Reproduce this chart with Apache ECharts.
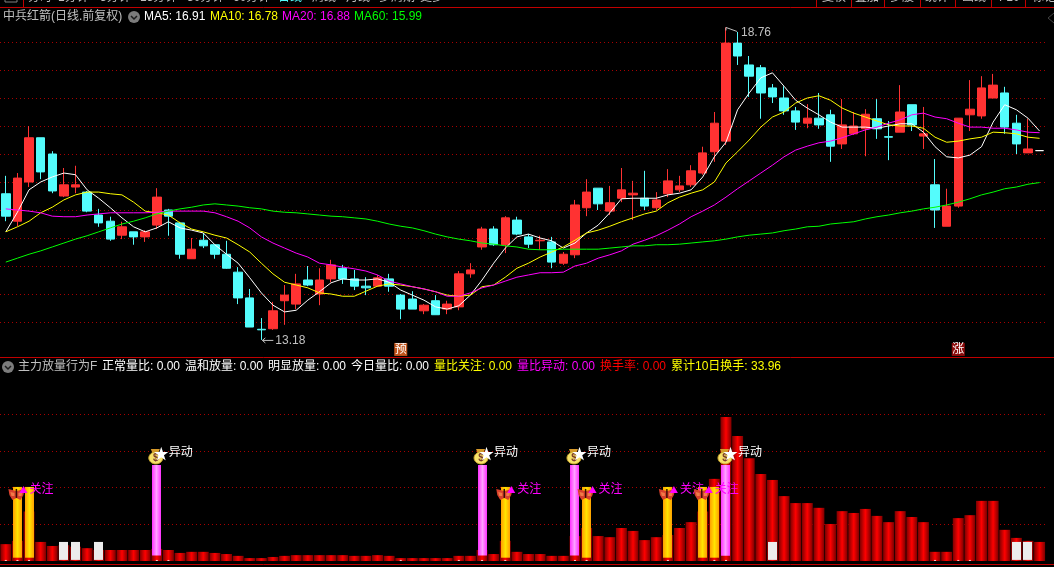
<!DOCTYPE html>
<html>
<head>
<meta charset="utf-8">
<style>html,body{margin:0;background:#000}#main{width:1054px;height:567px}</style>
<script src="https://cdn.jsdelivr.net/npm/echarts@6/dist/echarts.min.js"></script>
</head>
<body>
<div id="main"></div>
<script>
// [open, close, low, high]
const ohlc = [
[15.79,15.39,15.30,16.11],[15.30,16.07,15.21,16.16],[16.00,16.79,15.91,17.00],[16.79,16.18,16.05,16.79],[16.50,15.84,15.80,16.55],
[15.75,15.95,15.73,16.25],[15.91,15.95,15.80,16.29],[15.82,15.48,15.46,15.84],[15.41,15.27,15.20,15.52],[15.30,14.98,14.95,15.38],
[15.05,15.20,14.98,15.29],[15.11,15.02,14.88,15.11],[15.02,15.11,14.93,15.14],[15.23,15.73,15.16,15.89],[15.50,15.39,15.04,15.52],
[15.27,14.71,14.63,15.29],[14.63,14.80,14.63,15.00],[14.96,14.86,14.82,15.09],[14.88,14.71,14.63,14.88],[14.71,14.46,14.45,14.95],
[14.39,13.93,13.82,14.48],[13.93,13.41,13.41,14.09],[13.37,13.36,13.18,13.57],[13.38,13.70,13.36,13.86],[13.88,13.98,13.45,14.16],
[13.82,14.18,13.73,14.36],[14.25,14.16,14.14,14.50],[14.00,14.25,13.80,14.46],[14.27,14.52,14.21,14.61],[14.46,14.27,14.18,14.52],
[14.27,14.14,14.07,14.43],[14.14,14.11,13.98,14.30],[14.14,14.29,14.13,14.34],[14.27,14.14,14.04,14.36],[13.98,13.73,13.55,14.00],
[13.91,13.73,13.73,14.05],[13.70,13.80,13.64,13.82],[13.88,13.63,13.63,13.98],[13.73,13.82,13.64,13.88],[13.77,14.36,13.71,14.41],
[14.36,14.43,14.29,14.55],[14.84,15.16,14.79,15.20],[15.16,14.88,14.86,15.21],[14.88,15.36,14.73,15.39],[15.32,15.07,15.05,15.38],
[15.02,14.89,14.82,15.07],[14.95,14.96,14.79,15.04],[14.93,14.57,14.46,15.02],[14.55,14.71,14.52,14.75],[14.70,15.59,14.64,15.68],
[15.54,15.82,15.39,16.05],[15.89,15.61,15.50,15.89],[15.48,15.63,15.41,15.93],[15.71,15.86,15.64,16.25],[15.77,15.80,15.32,16.02],
[15.71,15.57,15.50,16.20],[15.54,15.68,15.50,15.82],[15.79,16.02,15.73,16.23],[15.86,15.93,15.82,16.11],[15.95,16.20,15.91,16.30],
[16.16,16.52,16.13,16.63],[16.54,17.05,16.36,17.25],[16.73,18.48,16.66,18.76],[18.48,18.25,18.09,18.68],[18.09,17.89,17.52,18.25],
[18.04,17.59,17.13,18.09],[17.68,17.52,17.41,17.75],[17.50,17.27,17.20,17.71],[17.27,17.07,16.93,17.34],[17.05,17.14,16.96,17.39],
[17.14,17.02,16.95,17.59],[17.20,16.64,16.36,17.29],[16.68,17.02,16.59,17.48],[16.86,17.00,16.84,17.25],[16.95,17.21,16.46,17.30],
[17.13,16.95,16.77,17.48],[16.81,16.80,16.39,17.09],[16.89,17.25,16.89,17.73],[17.38,17.02,16.91,17.38],[16.82,16.86,16.59,17.34],
[15.95,15.50,15.18,16.41],[15.21,15.57,15.21,15.88],[15.57,17.14,15.54,17.14],[17.20,17.30,16.91,17.82],[17.18,17.68,17.13,17.89],
[17.50,17.73,17.50,17.93],[17.59,16.98,16.86,17.70],[17.05,16.68,16.50,17.20],[16.52,16.59,16.52,17.13],[16.56,16.56,16.56,16.56]
];
const ma5 = [15.11,15.46,15.86,16.00,16.09,16.16,16.13,15.86,15.71,15.54,15.36,15.20,15.11,15.18,15.29,15.18,15.14,15.09,14.88,14.71,14.55,14.29,14.02,13.80,13.68,13.71,13.89,14.04,14.20,14.27,14.25,14.25,14.27,14.21,14.07,13.98,13.89,13.77,13.73,13.79,13.98,14.25,14.55,14.82,15.02,15.07,15.00,14.95,14.82,14.91,15.09,15.23,15.45,15.70,15.71,15.71,15.71,15.77,15.80,15.86,16.09,16.45,16.71,17.29,17.59,17.86,17.95,17.71,17.46,17.32,17.20,17.07,16.98,16.98,16.98,16.96,17.00,17.04,17.04,16.89,16.63,16.45,16.43,16.48,16.63,17.07,17.38,17.29,17.14,16.91];
const ma10 = [15.11,15.20,15.30,15.45,15.55,15.68,15.77,15.82,15.82,15.79,15.77,15.64,15.48,15.45,15.41,15.27,15.16,15.11,15.05,15.00,14.88,14.75,14.55,14.36,14.21,14.16,14.11,14.02,14.00,13.96,13.96,14.05,14.14,14.18,14.16,14.13,14.09,14.04,13.98,13.96,13.98,14.13,14.16,14.30,14.46,14.55,14.66,14.75,14.84,14.96,15.09,15.14,15.21,15.29,15.36,15.43,15.48,15.63,15.73,15.80,15.86,16.00,16.34,16.54,16.75,16.98,17.16,17.25,17.41,17.50,17.54,17.46,17.32,17.23,17.16,17.09,17.02,17.00,17.00,16.96,16.80,16.71,16.73,16.77,16.80,16.89,16.88,16.86,16.80,16.78];
const ma20 = [15.52,15.50,15.48,15.45,15.39,15.38,15.38,15.41,15.43,15.45,15.45,15.45,15.45,15.46,15.48,15.48,15.48,15.48,15.45,15.38,15.30,15.18,15.02,14.91,14.82,14.73,14.66,14.55,14.52,14.48,14.45,14.41,14.34,14.23,14.18,14.13,14.09,14.04,13.96,13.96,14.02,14.11,14.16,14.23,14.30,14.34,14.38,14.38,14.39,14.50,14.55,14.64,14.70,14.77,14.89,14.96,15.04,15.14,15.25,15.38,15.48,15.59,15.73,15.88,16.02,16.16,16.30,16.45,16.57,16.64,16.70,16.73,16.79,16.86,16.93,16.98,17.05,17.11,17.20,17.23,17.16,17.13,17.05,16.98,16.98,16.96,16.96,16.93,16.89,16.88];
const ma60 = [14.57,14.64,14.71,14.77,14.84,14.91,14.98,15.04,15.11,15.18,15.25,15.30,15.36,15.43,15.48,15.52,15.55,15.59,15.61,15.59,15.57,15.54,15.52,15.48,15.46,15.45,15.43,15.41,15.39,15.38,15.36,15.34,15.30,15.25,15.21,15.18,15.13,15.07,15.02,14.98,14.95,14.91,14.89,14.86,14.84,14.80,14.79,14.79,14.80,14.80,14.80,14.80,14.82,14.84,14.86,14.86,14.88,14.88,14.89,14.91,14.93,14.95,14.98,15.02,15.05,15.07,15.09,15.13,15.16,15.20,15.21,15.25,15.27,15.29,15.34,15.38,15.41,15.45,15.48,15.52,15.55,15.59,15.64,15.70,15.77,15.82,15.88,15.91,15.96,15.99];
const volume = [4.6,5.5,13.5,5.2,4.1,4.3,3.9,3.5,3.0,3.0,3.0,3.0,3.0,3.3,3.0,2.2,2.5,2.5,2.2,1.9,1.4,0.8,0.8,1.1,1.4,1.6,1.6,1.6,1.6,1.6,1.4,1.4,1.6,1.4,0.8,0.8,0.8,0.8,0.8,1.4,1.4,3.0,1.9,5.5,2.5,1.9,1.9,1.4,1.4,6.8,9.0,6.8,6.5,9.0,8.2,5.7,6.5,7.1,9.0,10.6,13.5,22.4,39.3,34.1,28.0,23.7,22.1,17.7,15.8,15.8,14.5,10.1,13.6,13.1,14.2,12.3,10.6,13.6,12.0,10.6,2.5,2.5,11.7,12.5,16.4,16.4,8.5,6.3,5.5,5.2];
const days = ohlc.map((d, i) => String(i + 1));

// overlay bars: day index, bottom, top
const focusBars = [[1,0.9,20.2],[2,0.9,20.2],[43,0.9,20.2],[50,0.9,20.2],[57,0.9,20.2],[60,0.9,20.2],[61,0.9,20.2]];
const spikeBars = [[13,1.5,26.2],[41,1.5,26.2],[49,1.5,26.2],[62,1.4,26.2]];
const idleBars = [[5,0.3,5.2],[6,0.3,5.2],[8,0.3,5.2],[66,0.3,5.2],[87,0.3,5.2],[88,0.3,5.2]];
const focusMarks = [[1,20.2],[43,20.2],[50,20.2],[57,20.2],[60,20.2]];
const spikeMarks = [[13,26.2],[41,26.2],[49,26.2],[62,26.2]];
const bottomDots = [0,1,2,13,14,34,39,41,43,49,50,57,61,62,80,82,83];
const extremes = [[62,18.76,'18.76'],[22,13.18,'13.18']];
const tags = [[34,13.01,'预','#c2551c'],[82,13.01,'涨','#8c0c0c']];

const topMenu = [['分时',28],['1分钟',58],['5分钟',100],['15分钟',140],['30分钟',187],['60分钟',233],['日线',278,'#54fcfc'],['周线',312],['月线',346],['多周期',379],['更多',420],['复权',822],['叠加',855],['多股',890],['统计',925],['画线',962],['F10',999],['标记',1032]];
const topDividers = [23,816,851,884,920,955,991,1025];
const priceLegend = [['中兵红箭(日线.前复权)',3,'#c0c0c0'],['MA5: 16.91',144,'#ffffff'],['MA10: 16.78',210,'#ffff00'],['MA20: 16.88',282,'#ff00ff'],['MA60: 15.99',354,'#00ff00']];
const volLegend = [['主力放量行为F',18,'#c0c0c0'],['正常量比: 0.00',102,'#ffffff'],['温和放量: 0.00',185,'#ffffff'],['明显放量: 0.00',268,'#ffffff'],['今日量比: 0.00',351,'#ffffff'],['量比关注: 0.00',434,'#ffff00'],['量比异动: 0.00',517,'#ff00ff'],['换手率: 0.00',600,'#ff0000'],['累计10日换手: 33.96',671,'#ffff00']];

const FONT = '12px "Liberation Sans","Noto Sans CJK SC",sans-serif';
const hGrad = (edge, mid) => new echarts.graphic.LinearGradient(0, 0, 1, 0, [
  { offset: 0, color: edge }, { offset: 0.5, color: mid }, { offset: 1, color: edge }
]);

function label(text, x, y, fill) {
  return { type: 'text', silent: true, style: { text, x, y, fill, font: FONT, verticalAlign: 'middle' } };
}
function hline(y) {
  return { type: 'line', silent: true, shape: { x1: 0, y1: y, x2: 1054, y2: y }, style: { stroke: '#c00000', lineWidth: 1 } };
}
function dropdown(x, y) {
  return {
    type: 'group', silent: true, children: [
      { type: 'circle', shape: { cx: x, cy: y, r: 6 }, style: { fill: '#7c7c7c' } },
      { type: 'polyline', shape: { points: [[x - 3, y - 1], [x, y + 2], [x + 3, y - 1]] }, style: { stroke: '#1c1c1c', lineWidth: 1.5, fill: null } }
    ]
  };
}

function barRender(edge, mid, width) {
  return function (params, api) {
    const a = api.coord([api.value(0), api.value(1)]);
    const b = api.coord([api.value(0), api.value(2)]);
    return {
      type: 'rect',
      shape: { x: Math.round(a[0] - width / 2), y: b[1], width: width, height: a[1] - b[1] },
      style: { fill: hGrad(edge, mid) }
    };
  };
}

function focusMarkRender(params, api) {
  const p = api.coord([api.value(0), api.value(1)]);
  const x = p[0] - 1, y = p[1] + 7;
  const wing = '#d8402c', inner = '#f07a48';
  const side = s => [
    { type: 'polygon', shape: { points: [[x + s * 8, y - 5], [x, y - 3], [x, y + 4], [x + s * 4, y + 6], [x + s * 7, y + 1]] }, style: { fill: wing } },
    { type: 'polygon', shape: { points: [[x + s * 6, y - 2], [x + s * 2, y - 1], [x + s * 2, y + 2], [x + s * 5, y + 2]] }, style: { fill: inner } }
  ];
  return {
    type: 'group', children: [
      ...side(-1), ...side(1),
      { type: 'line', shape: { x1: x, y1: y - 5, x2: x, y2: y + 4 }, style: { stroke: '#3a0c06', lineWidth: 1.5 } },
      { type: 'polygon', shape: { points: [[p[0] + 6, p[1] - 1], [p[0] + 10, p[1] + 6], [p[0] + 2, p[1] + 6]] }, style: { fill: '#ff00ff' } },
      { type: 'text', style: { text: '关注', x: p[0] + 12, y: p[1] + 2.5, fill: '#ff00ff', font: FONT, verticalAlign: 'middle' } }
    ]
  };
}

function spikeMarkRender(params, api) {
  const p = api.coord([api.value(0), api.value(1)]);
  const x = p[0], y = p[1];
  return {
    type: 'group', children: [
      { type: 'polygon', shape: { points: [[x - 6, y - 16], [x + 3, y - 16], [x + 1, y - 11], [x - 4, y - 11]] }, style: { fill: '#d89a2a' } },
      { type: 'ellipse', shape: { cx: x - 1, cy: y - 7, rx: 7, ry: 6 }, style: { fill: '#f7e16a', stroke: '#c9a52a', lineWidth: 1 } },
      { type: 'text', style: { text: '$', x: x - 1, y: y - 7, fill: '#7a3c2a', font: 'bold 10px "Liberation Sans"', align: 'center', verticalAlign: 'middle' } },
      { type: 'text', style: { text: '★', x: x + 4.5, y: y - 12, fill: '#ffffff', font: '15px "Noto Sans CJK SC"', align: 'center', verticalAlign: 'middle' } },
      { type: 'text', style: { text: '异动', x: x + 12, y: y - 12, fill: '#ffffff', font: FONT, verticalAlign: 'middle' } }
    ]
  };
}

function extremeRender(params, api) {
  const p = api.coord([api.value(0), api.value(1)]);
  const c = '#c0c0c0';
  if (params.dataIndex === 0) {
    return {
      type: 'group', children: [
        { type: 'polyline', shape: { points: [[p[0], p[1] + 3], [p[0], p[1]], [p[0] + 11, p[1] + 4]] }, style: { stroke: c, lineWidth: 1, fill: null } },
        { type: 'text', style: { text: api.value(2), x: p[0] + 15, y: p[1] + 5, fill: c, font: FONT, verticalAlign: 'middle' } }
      ]
    };
  }
  return {
    type: 'group', children: [
      { type: 'line', shape: { x1: p[0] + 1, y1: p[1] + 0.5, x2: p[0] + 12, y2: p[1] + 0.5 }, style: { stroke: c, lineWidth: 1 } },
      { type: 'polyline', shape: { points: [[p[0] + 4, p[1] - 2], [p[0] + 1, p[1] + 0.5], [p[0] + 4, p[1] + 3]] }, style: { stroke: c, lineWidth: 1, fill: null } },
      { type: 'text', style: { text: api.value(2), x: p[0] + 14, y: p[1] + 0.5, fill: c, font: FONT, verticalAlign: 'middle' } }
    ]
  };
}

function tagRender(params, api) {
  const p = api.coord([api.value(0), api.value(1)]);
  return {
    type: 'group', children: [
      { type: 'rect', shape: { x: p[0] - 6.5, y: p[1] - 6.5, width: 13, height: 13 }, style: { fill: tags[params.dataIndex][3] } },
      { type: 'text', style: { text: api.value(2), x: p[0], y: p[1], fill: '#ffffff', font: FONT, align: 'center', verticalAlign: 'middle' } }
    ]
  };
}

const maLine = (name, data, color) => ({
  name, type: 'line', data, symbol: 'none', silent: true, xAxisIndex: 0, yAxisIndex: 0, z: 4,
  lineStyle: { color, width: 1 }
});
const customOn = (axis, data, renderItem, z) => ({
  type: 'custom', xAxisIndex: axis, yAxisIndex: axis, data, renderItem, silent: true, clip: false, z
});

const chart = echarts.init(document.getElementById('main'), null, { renderer: 'canvas' });
const dotted = { show: true, showMinLine: false, showMaxLine: false, lineStyle: { color: '#a80000', type: [1, 3], width: 1 } };

const option = {
  animation: false,
  backgroundColor: '#000',
  grid: [
    { left: -0.9, width: 1046.3, top: 14, height: 336 },
    { left: -0.9, width: 1046.3, top: 377.67, height: 183.33 }
  ],
  xAxis: [
    { type: 'category', gridIndex: 0, data: days, show: false },
    { type: 'category', gridIndex: 1, data: days, show: false }
  ],
  yAxis: [
    { type: 'value', gridIndex: 0, min: 13, max: 19, interval: 0.5, axisLine: { show: false }, axisTick: { show: false }, axisLabel: { show: false }, splitLine: dotted },
    { type: 'value', gridIndex: 1, min: 0, max: 50, interval: 10, axisLine: { show: false }, axisTick: { show: false }, axisLabel: { show: false }, splitLine: dotted }
  ],
  series: [
    {
      type: 'candlestick', data: ohlc, xAxisIndex: 0, yAxisIndex: 0, barWidth: 9, silent: true, z: 3,
      itemStyle: { color: '#ff3232', color0: '#54fcfc', borderColor: '#ff3232', borderColor0: '#54fcfc', borderColorDoji: '#ffffff', borderWidth: 1 }
    },
    maLine('MA5', ma5, '#ffffff'),
    maLine('MA10', ma10, '#ffff00'),
    maLine('MA20', ma20, '#ff00ff'),
    maLine('MA60', ma60, '#00ff00'),
    customOn(0, extremes, extremeRender, 5),
    customOn(0, tags, tagRender, 5),
    {
      type: 'bar', data: volume, xAxisIndex: 1, yAxisIndex: 1, barWidth: 11, silent: true, z: 2,
      itemStyle: { color: hGrad('#7c0000', '#ff0000') }
    },
    customOn(1, focusBars, barRender('#ffa000', '#ffe400', 9), 6),
    customOn(1, spikeBars, barRender('#ff30ff', '#ffa0ff', 9), 6),
    customOn(1, idleBars, barRender('#ececec', '#ececec', 9), 6),
    {
      type: 'scatter', xAxisIndex: 1, yAxisIndex: 1, data: bottomDots.map(d => [d, 0.15]), z: 7,
      symbol: 'rect', symbolSize: [2, 1], silent: true, itemStyle: { color: '#ffffff' }
    },
    customOn(1, focusMarks, focusMarkRender, 8),
    customOn(1, spikeMarks, spikeMarkRender, 8)
  ],
  graphic: [
    hline(7.5), hline(357.5), hline(564.5),
    ...topMenu.map(m => label(m[0], m[1], -2, m[2] || '#c0c0c0')),
    ...topDividers.map(x => ({ type: 'line', silent: true, shape: { x1: x + 0.5, y1: 0, x2: x + 0.5, y2: 7 }, style: { stroke: '#c00000', lineWidth: 1 } })),
    { type: 'rect', silent: true, shape: { x: 5, y: -1, width: 12, height: 3 }, style: { stroke: '#808080', fill: null, lineWidth: 1 } },
    { type: 'polyline', silent: true, shape: { points: [[1054, 13], [1048, 18], [1054, 23]] }, style: { stroke: '#444444', fill: null, lineWidth: 1 } },
    ...priceLegend.map(m => label(m[0], m[1], 17, m[2])),
    ...volLegend.map(m => label(m[0], m[1], 367, m[2])),
    dropdown(134, 17),
    dropdown(8, 367)
  ]
};
chart.setOption(option);
</script>
</body>
</html>
